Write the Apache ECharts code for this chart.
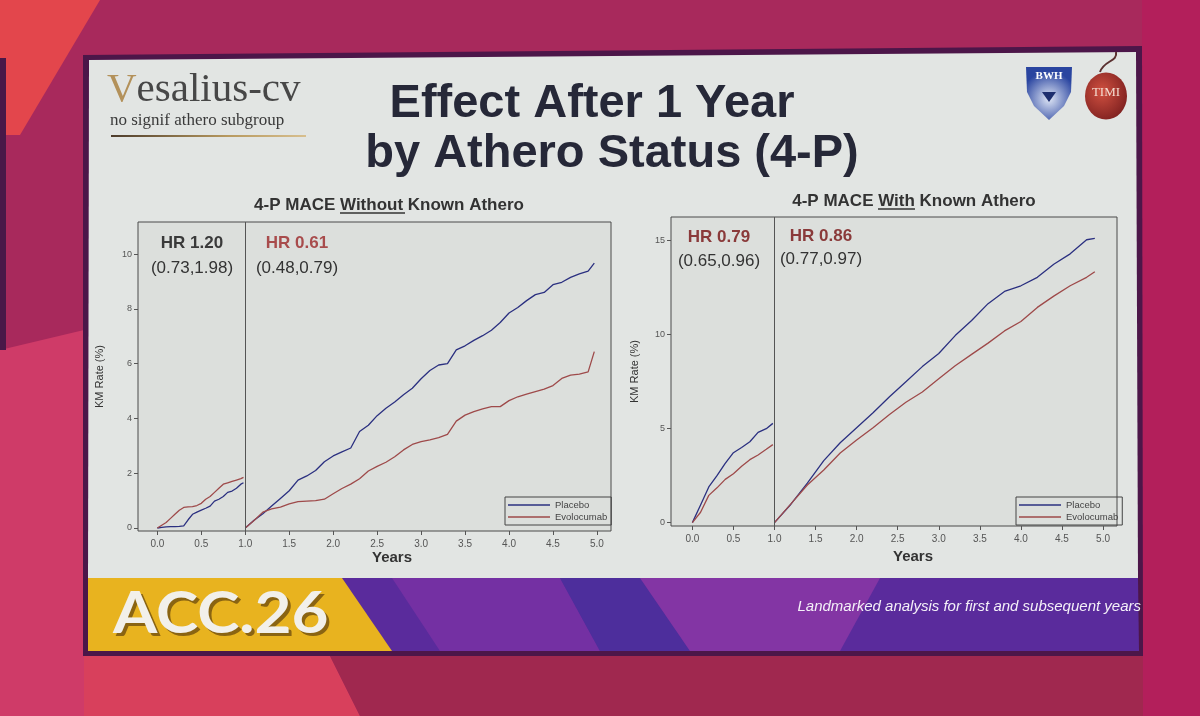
<!DOCTYPE html>
<html>
<head>
<meta charset="utf-8">
<title>Effect After 1 Year by Athero Status (4-P)</title>
<script src="https://cdn.jsdelivr.net/npm/echarts@6/dist/echarts.min.js"></script>
<style>
  html, body { margin: 0; padding: 0; background: #ab2a5e; }
  #main { width: 1200px; height: 716px; }
</style>
</head>
<body>
<div id="main"></div>
<script>
// ticks
var xTicks = [0, 0.5, 1, 1.5, 2, 2.5, 3, 3.5, 4, 4.5, 5];
var leftYTicks = [0, 2, 4, 6, 8, 10];
var rightYTicks = [0, 5, 10, 15];

// left panel: without known athero, year 1 (landmark 0-1)
var leftYear1 = [0, 0.05, 0.1, 0.15, 0.2, 0.25, 0.3, 0.35, 0.4, 0.45, 0.5, 0.55, 0.6, 0.65, 0.7, 0.75, 0.8, 0.85, 0.9, 0.95, 0.98];
var leftY1Placebo = [0, 0.02, 0.04, 0.05, 0.05, 0.06, 0.08, 0.3, 0.5, 0.58, 0.65, 0.72, 0.8, 0.98, 1.05, 1.15, 1.3, 1.35, 1.45, 1.6, 1.65];
var leftY1Evolocumab = [0, 0.1, 0.2, 0.35, 0.5, 0.65, 0.75, 0.77, 0.78, 0.82, 0.9, 1.05, 1.15, 1.3, 1.45, 1.6, 1.65, 1.7, 1.75, 1.8, 1.85];

// left panel, after year 1
var leftLater = [1.0, 1.1, 1.2, 1.3, 1.4, 1.5, 1.6, 1.7, 1.8, 1.9, 2.0, 2.1, 2.2, 2.3, 2.4, 2.5, 2.6, 2.7, 2.8, 2.9,
                 3.0, 3.1, 3.2, 3.3, 3.4, 3.5, 3.6, 3.7, 3.8, 3.9, 4.0, 4.1, 4.2, 4.3, 4.4, 4.5, 4.6, 4.7, 4.8, 4.9, 4.97];
var leftLaterPlacebo = [0, 0.28, 0.52, 0.8, 1.08, 1.36, 1.75, 1.9, 2.1, 2.42, 2.63, 2.78, 2.92, 3.52, 3.75, 4.1, 4.37, 4.6, 4.86, 5.1,
                        5.45, 5.75, 5.95, 6.0, 6.5, 6.65, 6.85, 7.02, 7.22, 7.5, 7.85, 8.05, 8.3, 8.52, 8.6, 8.88, 8.97, 9.15, 9.28, 9.38, 9.67];
var leftLaterEvolocumab = [0, 0.27, 0.58, 0.7, 0.76, 0.88, 0.96, 0.98, 1.0, 1.05, 1.25, 1.44, 1.6, 1.8, 2.08, 2.25, 2.4, 2.6, 2.85, 3.05,
                           3.15, 3.22, 3.3, 3.42, 3.9, 4.12, 4.25, 4.35, 4.43, 4.43, 4.65, 4.79, 4.89, 4.98, 5.07, 5.2, 5.46, 5.58, 5.62, 5.7, 6.44];

// right panel: with known athero, year 1
var rightYear1 = [0, 0.1, 0.2, 0.3, 0.4, 0.5, 0.6, 0.7, 0.8, 0.9, 0.98];
var rightY1Placebo = [0, 0.94, 1.9, 2.5, 3.15, 3.72, 4.0, 4.3, 4.8, 5.0, 5.28];
var rightY1Evolocumab = [0, 0.55, 1.45, 1.85, 2.3, 2.6, 3.0, 3.35, 3.6, 3.9, 4.15];

// right panel, after year 1
var rightLater = [1.0, 1.2, 1.4, 1.6, 1.8, 2.0, 2.2, 2.4, 2.6, 2.8, 3.0, 3.2, 3.4, 3.6, 3.8, 4.0, 4.2, 4.4, 4.6, 4.8, 4.9];
var rightLaterPlacebo = [0, 0.98, 2.1, 3.3, 4.25, 5.05, 5.85, 6.7, 7.5, 8.3, 9.0, 9.95, 10.75, 11.65, 12.3, 12.6, 13.05, 13.75, 14.3, 15.05, 15.12];
var rightLaterEvolocumab = [0, 1.0, 2.0, 2.8, 3.7, 4.4, 5.05, 5.75, 6.4, 6.95, 7.65, 8.35, 8.95, 9.55, 10.2, 10.7, 11.45, 12.05, 12.6, 13.05, 13.35];

var BLUE = '#2b3080';
var RED = '#9e4a4a';

function pairs(xs, ys) {
  return xs.map(function (x, i) { return [x, ys[i]]; });
}

function xAxisFor(gi, min, max) {
  return {
    type: 'value', gridIndex: gi, min: min, max: max,
    axisLine: { show: false, onZero: false },
    splitLine: { show: false },
    axisTick: { show: true, customValues: xTicks, length: 4, lineStyle: { color: '#555' } },
    axisLabel: { customValues: xTicks, formatter: function (v) { return v.toFixed(1); },
                 fontSize: 10, color: '#555', margin: 8, fontFamily: 'Liberation Sans' }
  };
}

function yAxisFor(gi, min, max, ticks, gap) {
  return {
    type: 'value', gridIndex: gi, min: min, max: max,
    name: 'KM Rate (%)', nameLocation: 'middle', nameGap: gap,
    nameTextStyle: { fontSize: 11, color: '#333', fontFamily: 'Liberation Sans' },
    axisLine: { show: false, onZero: false },
    splitLine: { show: false },
    axisTick: { show: true, customValues: ticks, length: 4, lineStyle: { color: '#555' } },
    axisLabel: { customValues: ticks, fontSize: 9, color: '#555', margin: 6, fontFamily: 'Liberation Sans' }
  };
}

var divider = {
  silent: true, symbol: 'none', label: { show: false },
  lineStyle: { color: '#555', type: 'solid', width: 1 },
  data: [{ xAxis: 1 }]
};

function curve(name, gi, xs, ys, color, withDivider) {
  var s = {
    name: name, type: 'line', xAxisIndex: gi, yAxisIndex: gi,
    data: pairs(xs, ys), showSymbol: false, symbol: 'none',
    lineStyle: { color: color, width: 1.3 }, itemStyle: { color: color }
  };
  if (withDivider) s.markLine = divider;
  return s;
}

function txt(text, x, y, font, fill, align) {
  return { type: 'text', x: x, y: y, z: 10,
    style: { text: text, font: font, fill: fill,
             align: align || 'center', textAlign: align || 'center',
             verticalAlign: 'middle', textVerticalAlign: 'middle' } };
}
function poly(points, fill, z) {
  return { type: 'polygon', z: z == null ? -5 : z, silent: true, shape: { points: points }, style: { fill: fill } };
}

var bg = [
  poly([[0,0],[1200,0],[1200,716],[0,716]], '#a8295c', -9),
  poly([[0,0],[100,0],[20,135],[0,135]], '#e3464c', -8),
  poly([[0,350],[84,330],[84,716],[0,716]], '#cf3b68', -8),
  poly([[84,656],[330,656],[360,716],[84,716]], '#d8405c', -8),
  poly([[330,656],[1200,656],[1200,716],[360,716]], '#a0284f', -8),
  poly([[1142,0],[1200,0],[1200,716],[1143,716]], '#b31f5b', -8),
  poly([[0,58],[6,58],[6,350],[0,350]], '#4a1848', -7),
  // slide frame and panel
  poly([[83,55],[1142,46],[1143,656],[83,656]], '#4c1649', -6),
  poly([[89,60],[1136,52],[1138,578],[88,578]], '#e2e5e3', -5),
  // bottom banner
  poly([[88,578],[1138,578],[1139,651],[88,651]], '#5a2b9c', -5),
  poly([[392,578],[560,578],[600,651],[440,651]], '#7430a3', -4),
  poly([[560,578],[640,578],[690,651],[600,651]], '#4d2e9c', -4),
  poly([[640,578],[880,578],[840,651],[690,651]], '#8335a4', -4),
  poly([[88,578],[342,578],[392,651],[88,651]], '#e8b31f', -3)
];

var logos = [
  { type: 'polygon', z: 5, shape: { points: [[1026,67],[1072,67],[1071,92],[1064,106],[1049,120],[1034,106],[1027,92]] },
    style: { fill: new echarts.graphic.RadialGradient(0.5, 0.6, 0.6, [{ offset: 0, color: '#dfe6f5' }, { offset: 1, color: '#2a45a0' }]) } },
  { type: 'polygon', z: 6, shape: { points: [[1042,92],[1056,92],[1049,102]] }, style: { fill: '#1d2e6e' } },
  txt('BWH', 1049, 76, 'bold 11px "Liberation Serif"', '#ffffff'),
  { type: 'circle', z: 5, x: 1106, y: 96, scaleY: 1.12, shape: { cx: 0, cy: 0, r: 21 },
    style: { fill: new echarts.graphic.RadialGradient(0.4, 0.4, 0.7, [{ offset: 0, color: '#d05040' }, { offset: 1, color: '#7a1e1e' }]) } },
  { type: 'bezierCurve', z: 6, shape: { x1: 1100, y1: 72, x2: 1116, y2: 52, cpx1: 1104, cpy1: 60, cpx2: 1118, cpy2: 62 },
    style: { stroke: '#5a3030', lineWidth: 2, fill: null } },
  txt('TIMI', 1106, 93, '13px "Liberation Serif"', '#f4dcd0')
];

var texts = [
  { type: 'text', x: 107, y: 90, z: 10,
    style: { text: '{v|V}{e|esalius-cv}', verticalAlign: 'middle', textVerticalAlign: 'middle',
             rich: { v: { fill: '#b3915a', fontSize: 41, fontFamily: 'Liberation Serif' },
                     e: { fill: '#474747', fontSize: 41, fontFamily: 'Liberation Serif' } } } },
  txt('no signif athero subgroup', 110, 121, '17px "Liberation Serif"', '#3a3a3a', 'left'),
  { type: 'line', z: 10, shape: { x1: 111, y1: 136, x2: 306, y2: 136 },
    style: { lineWidth: 2, stroke: new echarts.graphic.LinearGradient(0, 0, 1, 0, [{ offset: 0, color: '#4a3a2a' }, { offset: 0.6, color: '#b89a60' }, { offset: 1, color: '#d8c090' }]) } },

  txt('Effect After 1 Year', 592, 104, 'bold 47px "Liberation Sans"', '#262838'),
  txt('by Athero Status (4-P)', 612, 154, 'bold 47px "Liberation Sans"', '#262838'),

  txt('4-P MACE Without Known Athero', 389, 205, 'bold 17px "Liberation Sans"', '#333'),
  { type: 'line', z: 10, shape: { x1: 340, y1: 213, x2: 405, y2: 213 }, style: { stroke: '#333', lineWidth: 1.3 } },
  txt('4-P MACE With Known Athero', 914, 201, 'bold 17px "Liberation Sans"', '#333'),
  { type: 'line', z: 10, shape: { x1: 878, y1: 209, x2: 915, y2: 209 }, style: { stroke: '#333', lineWidth: 1.3 } },

  txt('HR 1.20', 192, 243, 'bold 17px "Liberation Sans"', '#3a3a3a'),
  txt('(0.73,1.98)', 192, 268, '17px "Liberation Sans"', '#333'),
  txt('HR 0.61', 297, 243, 'bold 17px "Liberation Sans"', '#a84c4c'),
  txt('(0.48,0.79)', 297, 268, '17px "Liberation Sans"', '#333'),
  txt('HR 0.79', 719, 237, 'bold 17px "Liberation Sans"', '#8a3a3a'),
  txt('(0.65,0.96)', 719, 261, '17px "Liberation Sans"', '#333'),
  txt('HR 0.86', 821, 236, 'bold 17px "Liberation Sans"', '#8a3a3a'),
  txt('(0.77,0.97)', 821, 259, '17px "Liberation Sans"', '#333'),

  txt('Years', 392, 558, 'bold 15px "Liberation Sans"', '#333'),
  txt('Years', 913, 557, 'bold 15px "Liberation Sans"', '#333'),

  Object.assign(txt('ACC.26', 116, 617, 'bold 58px Lato', '#8a6412', 'left'), { scaleX: 1.1 }),
  Object.assign(txt('ACC.26', 113, 614, 'bold 58px Lato', '#f2f0ea', 'left'), { scaleX: 1.1 }),
  txt('Landmarked analysis for first and subsequent years', 1141, 607, 'italic 15px "Liberation Sans"', '#f4f0f8', 'right')
];

var chart = echarts.init(document.getElementById('main'));
chart.setOption({
  animation: false,
  backgroundColor: '#a8295c',
  graphic: { elements: bg.concat(logos, texts) },
  grid: [
    { left: 138, top: 222, width: 473, height: 309, show: true, backgroundColor: '#dcdfdc', borderColor: '#4a4a4a', borderWidth: 1 },
    { left: 671, top: 217, width: 446, height: 309, show: true, backgroundColor: '#dcdfdc', borderColor: '#4a4a4a', borderWidth: 1 }
  ],
  xAxis: [xAxisFor(0, -0.22, 5.16), xAxisFor(1, -0.26, 5.17)],
  yAxis: [yAxisFor(0, -0.11, 11.17, leftYTicks, 33), yAxisFor(1, -0.18, 16.26, rightYTicks, 31)],
  legend: [
    { left: 505, top: 497, orient: 'vertical', data: ['Placebo', 'Evolocumab'], icon: 'rect',
      itemWidth: 42, itemHeight: 1.5, itemGap: 2, padding: [3, 4, 3, 3],
      borderColor: '#444', borderWidth: 1, textStyle: { fontSize: 9.5, color: '#444', fontFamily: 'Liberation Sans' } },
    { left: 1016, top: 497, orient: 'vertical', data: ['Placebo', 'Evolocumab'], icon: 'rect',
      itemWidth: 42, itemHeight: 1.5, itemGap: 2, padding: [3, 4, 3, 3],
      borderColor: '#444', borderWidth: 1, textStyle: { fontSize: 9.5, color: '#444', fontFamily: 'Liberation Sans' } }
  ],
  series: [
    curve('Placebo', 0, leftYear1, leftY1Placebo, BLUE, true),
    curve('Evolocumab', 0, leftYear1, leftY1Evolocumab, RED),
    curve('Placebo', 0, leftLater, leftLaterPlacebo, BLUE),
    curve('Evolocumab', 0, leftLater, leftLaterEvolocumab, RED),
    curve('Placebo', 1, rightYear1, rightY1Placebo, BLUE, true),
    curve('Evolocumab', 1, rightYear1, rightY1Evolocumab, RED),
    curve('Placebo', 1, rightLater, rightLaterPlacebo, BLUE),
    curve('Evolocumab', 1, rightLater, rightLaterEvolocumab, RED)
  ]
});
</script>
</body>
</html>
